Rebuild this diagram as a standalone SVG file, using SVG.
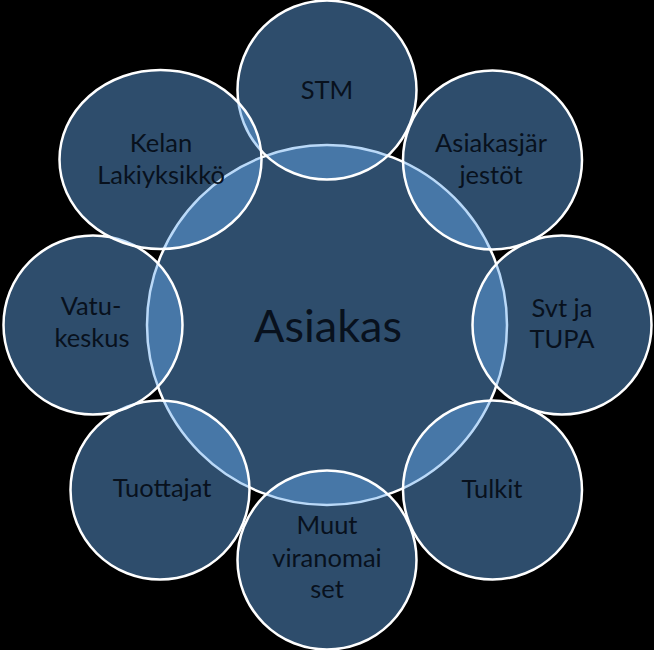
<svg xmlns="http://www.w3.org/2000/svg" width="654" height="650" viewBox="0 0 654 650">
<style>
.c{fill:#66ABF0;fill-opacity:0.45;stroke:#ffffff;stroke-width:2.5}
.t{font-family:Lato,"Liberation Sans",sans-serif;fill:#08111d;text-anchor:middle;font-size:25.5px}
.big{font-size:45px}
</style>
<rect x="0" y="0" width="654" height="650" fill="#000000"/>
<g id="asiakas"><circle class="c" cx="327" cy="325" r="180"/><text class="t big" x="328" y="342">Asiakas</text></g>
<g id="stm"><circle class="c" cx="327" cy="90" r="89.5"/><text class="t" x="327" y="99">STM</text></g>
<g id="asiakasjarjestot"><circle class="c" cx="492.5" cy="160" r="89.5"/><text class="t" x="491" y="152">Asiakasjär</text><text class="t" x="491" y="184">jestöt</text></g>
<g id="svt"><circle class="c" cx="562" cy="325" r="89.5"/><text class="t" x="562" y="317">Svt ja</text><text class="t" x="562" y="348">TUPA</text></g>
<g id="tulkit"><circle class="c" cx="492.5" cy="490" r="89.5"/><text class="t" x="492" y="498">Tulkit</text></g>
<g id="muut"><circle class="c" cx="327" cy="560" r="89.5"/><text class="t" x="327" y="534">Muut</text><text class="t" x="327" y="567">viranomai</text><text class="t" x="327" y="598">set</text></g>
<g id="tuottajat"><circle class="c" cx="160" cy="490" r="89.5"/><text class="t" x="162" y="497">Tuottajat</text></g>
<g id="vatu"><circle class="c" cx="93" cy="325" r="89.5"/><text class="t" x="91" y="315">Vatu-</text><text class="t" x="92" y="347">keskus</text></g>
<g id="kelan"><ellipse class="c" cx="160.5" cy="159.5" rx="101" ry="89.5"/><text class="t" x="161" y="152">Kelan</text><text class="t" x="161" y="184">Lakiyksikkö</text></g>
<g id="connectors"></g>
</svg>
